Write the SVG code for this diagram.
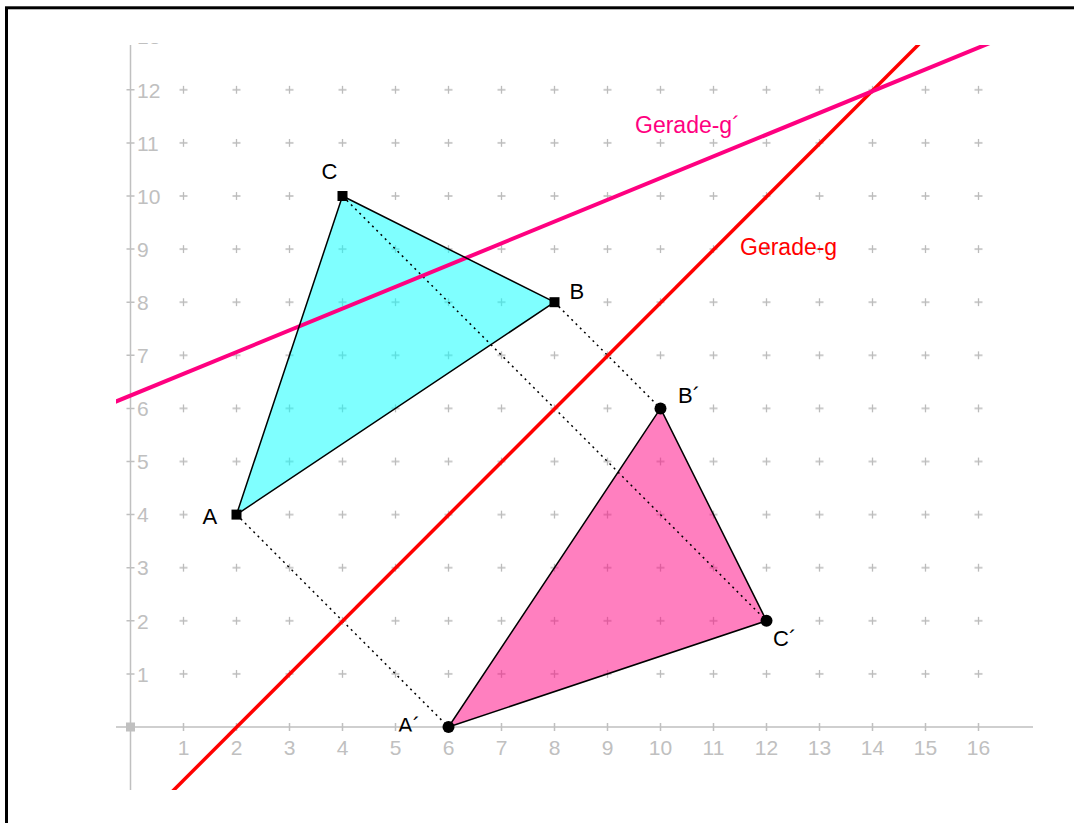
<svg xmlns="http://www.w3.org/2000/svg" xmlns:xlink="http://www.w3.org/1999/xlink" width="1074" height="823" viewBox="0 0 1074 823">
<style>
.ax{stroke:#c0c0c0;stroke-width:1.5;fill:none}
.axl{font-family:"Liberation Sans",Arial,sans-serif;font-size:21px;fill:#c0c0c0}
.pl{font-family:"Liberation Sans",Arial,sans-serif;font-size:22px;fill:#000}
.gl{font-family:"Liberation Sans",Arial,sans-serif;font-size:23px}
.edge{stroke:#000;stroke-width:1.5;stroke-linejoin:round}
.dot{stroke:#000;stroke-width:1.5;stroke-dasharray:2 4;fill:none}
</style>
<defs>
<clipPath id="plot"><rect x="116" y="45" width="917" height="745"/></clipPath>
<clipPath id="lab"><rect x="116" y="43" width="917" height="747"/></clipPath>
<clipPath id="aclip"><rect x="380" y="700" width="60" height="31.5"/></clipPath>
<pattern id="grid" patternUnits="userSpaceOnUse" x="104" y="700.45" width="53" height="53.1">
<path d="M22.5 26.55h8M26.5 22.55v8" stroke="#bcbcbc" stroke-width="1.3" fill="none"/>
</pattern>
</defs>
<rect width="1074" height="823" fill="#fff"/>
<rect x="6.5" y="7.8" width="1100" height="900" fill="none" stroke="#000" stroke-width="3"/>

<g id="grid-points">
<rect x="157" y="63.25" width="848" height="637.2" fill="url(#grid)"/>
</g>

<g id="axes" clip-path="url(#lab)">
<path class="ax" d="M130.5 45V790M116 727H1033"/>
<path class="ax" d="M183.5 723v8M236.5 723v8M289.5 723v8M342.5 723v8M395.5 723v8M448.5 723v8M501.5 723v8M554.5 723v8M607.5 723v8M660.5 723v8M713.5 723v8M766.5 723v8M819.5 723v8M872.5 723v8M925.5 723v8M978.5 723v8"/>
<path class="ax" d="M126.5 673.9h8M126.5 620.8h8M126.5 567.7h8M126.5 514.6h8M126.5 461.5h8M126.5 408.4h8M126.5 355.3h8M126.5 302.2h8M126.5 249.1h8M126.5 196h8M126.5 142.9h8M126.5 89.8h8"/>
<rect x="126" y="722.5" width="9" height="9" fill="#c0c0c0"/>
<g class="axl" text-anchor="middle">
<text x="183.5" y="754.5">1</text><text x="236.5" y="754.5">2</text><text x="289.5" y="754.5">3</text><text x="342.5" y="754.5">4</text><text x="395.5" y="754.5">5</text><text x="448.5" y="754.5">6</text><text x="501.5" y="754.5">7</text><text x="554.5" y="754.5">8</text><text x="607.5" y="754.5">9</text><text x="660.5" y="754.5">10</text><text x="713.5" y="754.5">11</text><text x="766.5" y="754.5">12</text><text x="819.5" y="754.5">13</text><text x="872.5" y="754.5">14</text><text x="925.5" y="754.5">15</text><text x="978.5" y="754.5">16</text>
</g>
<g class="axl">
<text x="137" y="681.6">1</text><text x="137" y="628.5">2</text><text x="137" y="575.4">3</text><text x="137" y="522.3">4</text><text x="137" y="469.2">5</text><text x="137" y="416.1">6</text><text x="137" y="363">7</text><text x="137" y="309.9">8</text><text x="137" y="256.8">9</text><text x="137" y="203.7">10</text><text x="137" y="150.6">11</text><text x="137" y="97.5">12</text><text x="137" y="44.4">13</text>
</g>
</g>

<g id="triangle-ABC">
<polygon points="236.5,514.6 554.5,302.2 342.5,196" fill="#00ffff" fill-opacity="0.5"/>
</g>
<g id="triangle-A2B2C2">
<polygon points="448.5,727 660.5,408.4 766.5,620.8" fill="#ff0080" fill-opacity="0.5"/>
</g>

<g id="connectors">
<line class="dot" x1="236.5" y1="514.6" x2="448.5" y2="727"/>
<line class="dot" x1="554.5" y1="302.2" x2="660.5" y2="408.4"/>
<line class="dot" x1="342.5" y1="196" x2="766.5" y2="620.8"/>
</g>

<g id="lines" clip-path="url(#plot)">
<line id="gerade-g" x1="100" y1="863.9" x2="1000" y2="-37" stroke="#ff0000" stroke-width="3.5"/>
<line id="gerade-g2" x1="100" y1="408.1" x2="1100" y2="-2.2" stroke="#ff0080" stroke-width="4"/>
</g>

<g id="edges" class="edge" fill="none">
<polygon points="236.5,514.6 554.5,302.2 342.5,196"/>
<polygon points="448.5,727 660.5,408.4 766.5,620.8"/>
</g>

<g id="point-A"><rect x="231.5" y="509.6" width="10" height="10"/><text class="pl" x="202.5" y="523.5">A</text></g>
<g id="point-B"><rect x="549.5" y="297.2" width="10" height="10"/><text class="pl" x="569.5" y="299">B</text></g>
<g id="point-C"><rect x="337.5" y="191" width="10" height="10"/><text class="pl" x="321.5" y="179">C</text></g>
<g id="point-A2"><circle cx="448.5" cy="727" r="6"/><text class="pl" x="398" y="732.5" clip-path="url(#aclip)">A´</text></g>
<g id="point-B2"><circle cx="660.5" cy="408.4" r="6"/><text class="pl" x="678" y="403">B´</text></g>
<g id="point-C2"><circle cx="766.5" cy="620.8" r="6"/><text class="pl" x="773" y="646">C´</text></g>

<g id="line-labels">
<text class="gl" x="635" y="133" fill="#ff0080">Gerade-g´</text>
<text class="gl" x="740" y="255" fill="#ff0000">Gerade-g</text>
</g>
</svg>
